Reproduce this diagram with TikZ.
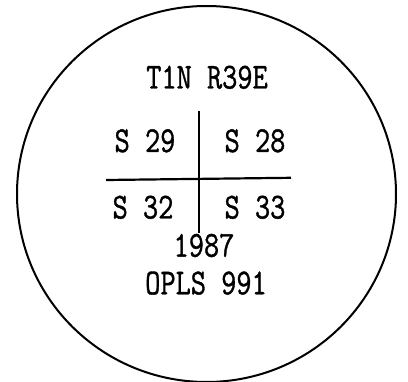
\documentclass[tikz,border=0pt]{standalone}
\usepackage{fontspec}
\setmonofont{Latin Modern Mono}[FakeBold=1.1]
\newcommand{\tall}[1]{\scalebox{1}[1.24]{#1}}
\begin{document}
\begin{tikzpicture}[x=1pt,y=-1pt,
  lbl/.style={font=\ttfamily\fontsize{29.5}{30}\selectfont, inner sep=0pt, anchor=base},
  rule/.style={line width=2.2pt, black}]
\useasboundingbox (0,0) rectangle (408,382);
\draw[line width=2pt] (206.5,194) ellipse [x radius=189.5, y radius=188];
\node[lbl] (title) at (207,88.5) {\tall{T1N R39E}};
\node[lbl] (s29) at (145,152) {\tall{S 29}};
\node[lbl] (s28) at (255,152) {\tall{S 28}};
\node[lbl] (s32) at (143,218.5) {\tall{S 32}};
\node[lbl] (s33) at (255,218.5) {\tall{S 33}};
\node[lbl] (year) at (204,256.7) {\tall{1987}};
\node[lbl] (opls) at (206,294.3) {\tall{OPLS 991}};
\coordinate (vt) at (198.8,111);
\coordinate (vb) at (198.8,233);
\coordinate (hl) at (106,180);
\coordinate (hr) at (291,177.8);
\draw[rule] (vt) -- (vb);
\draw[rule] (hl) -- (hr);
\end{tikzpicture}
\end{document}
